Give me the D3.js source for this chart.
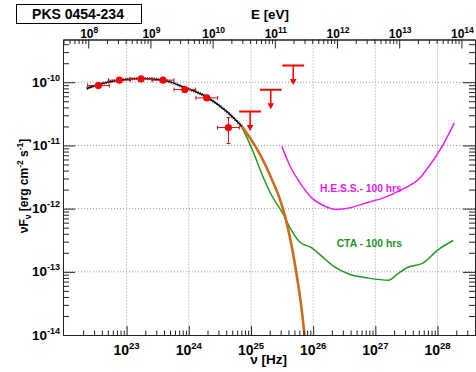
<!DOCTYPE html>
<html>
<head>
<meta charset="utf-8">
<script src="https://cdn.jsdelivr.net/npm/d3@7"></script>
<style>
body { margin: 0; background: #fff; }
text { font-family: "Liberation Sans", Arial, sans-serif; font-weight: bold; fill: #000; }
</style>
</head>
<body>
<div id="draw"></div>
<script>
// Fermi points (nu in Hz, nuFnu in erg cm-2 s-1)
var nuData = [3.52e22, 7.66e22, 1.71e23, 3.86e23, 8.63e23, 1.95e24, 4.34e24];
var nuLo   = [2.36e22, 5.12e22, 1.14e23, 2.58e23, 5.77e23, 1.30e24, 2.90e24];
var nuHi   = [5.27e22, 1.15e23, 2.56e23, 5.78e23, 1.29e24, 2.91e24, 6.49e24];
var fluxData = [8.87e-11, 1.08e-10, 1.13e-10, 1.08e-10, 7.66e-11, 5.66e-11, 1.92e-11];
var fluxLo   = [8.3e-11, 1.03e-10, 1.08e-10, 1.03e-10, 7.2e-11, 5.2e-11, 1.07e-11];
var fluxHi   = [9.5e-11, 1.13e-10, 1.18e-10, 1.13e-10, 8.2e-11, 6.2e-11, 2.76e-11];

// upper limits
var nuUL   = [9.68e24, 2.08e25, 4.79e25];
var nuULlo = [6.46e24, 1.39e25, 3.20e25];
var nuULhi = [1.45e25, 3.11e25, 7.16e25];
var fluxUL = [3.44e-11, 7.59e-11, 1.84e-10];

// model fit (black)
var fitNu   = [2.29e22, 3.52e22, 7.66e22, 1.71e23, 3.86e23, 8.63e23, 1.95e24, 4.08e24, 7.11e24];
var fitFlux = [7.94e-11, 9.20e-11, 1.08e-10, 1.15e-10, 1.08e-10, 8.24e-11, 5.83e-11, 3.44e-11, 2.01e-11];

// extrapolation (orange)
var extNu   = [7.11e24, 8.91e24, 1.12e25, 1.41e25, 1.78e25, 2.24e25, 2.82e25, 3.55e25, 4.47e25, 5.37e25,
               6.31e25, 7.08e25, 7.59e25];
var extFlux = [2.01e-11, 1.48e-11, 1.05e-11, 7.08e-12, 4.47e-12, 2.69e-12, 1.55e-12, 7.41e-13, 2.69e-13, 9.55e-14,
               3.31e-14, 1.26e-14, 6.31e-15];

// CTA 100 hrs (green)
var ctaNu   = [7.11e24, 9.68e24, 1.16e25, 1.40e25, 2.03e25, 3.32e25, 4.26e25, 6.10e25, 9.48e25, 1.37e26,
               2.11e26, 3.92e26, 7.28e26, 1.62e27, 2.21e27, 3.20e27, 5.92e27, 1.03e28, 1.79e28];
var ctaFlux = [1.95e-11, 1.03e-11, 6.75e-12, 4.16e-12, 1.80e-12, 8.07e-13, 4.97e-13, 2.96e-13, 2.40e-13, 1.77e-13,
               1.23e-13, 9.06e-14, 8.04e-14, 7.36e-14, 9.06e-14, 1.16e-13, 1.39e-13, 2.25e-13, 3.13e-13];

// H.E.S.S. 100 hrs (magenta)
var hessNu   = [3.13e25, 4.26e25, 6.15e25, 9.48e25, 1.46e26, 2.39e26, 3.91e26, 7.28e26, 1.35e27, 2.65e27,
                5.24e27, 6.97e27, 9.46e27, 1.55e28, 1.86e28];
var hessFlux = [9.70e-12, 4.69e-12, 2.56e-12, 1.48e-12, 1.12e-12, 9.68e-13, 1.03e-12, 1.24e-12, 1.48e-12, 2.00e-12,
                3.07e-12, 4.43e-12, 6.75e-12, 1.58e-11, 2.28e-11];

// tick labels
var xMajor = [1e23, 1e24, 1e25, 1e26, 1e27, 1e28];
var xLabels = ["23", "24", "25", "26", "27", "28"];
var eMajor = [1e8, 1e9, 1e10, 1e11, 1e12, 1e13, 1e14];
var eLabels = ["8", "9", "10", "11", "12", "13", "14"];
var yMajor = [1e-14, 1e-13, 1e-12, 1e-11, 1e-10];
var yLabels = ["-14", "-13", "-12", "-11", "-10"];

var width = 476, height = 372;
var L = 63, R = 475, T = 39.5, B = 335;
var hPlanck = 4.135667e-15; // eV s

var x = d3.scaleLog().domain([9.5e21, 4.0e28]).range([L, R]);
var xE = d3.scaleLog().domain([9.5e21 * hPlanck, 4.0e28 * hPlanck]).range([L, R]);
var y = d3.scaleLog().domain([1e-14, 4.75e-10]).range([B, T]);

function isDecade(v) {
	var l = Math.log10(v);
	return Math.abs(l - Math.round(l)) < 1e-6;
}

var svg = d3.select("#draw").append("svg")
	.attr("width", width)
	.attr("height", height);

svg.append("clipPath").attr("id", "plot")
	.append("rect").attr("x", L).attr("y", T).attr("width", R - L).attr("height", B - T);

// grid
svg.selectAll(".vgrid").data(xMajor).enter().append("line")
	.attr("x1", function(d){ return x(d); }).attr("x2", function(d){ return x(d); })
	.attr("y1", T).attr("y2", B)
	.attr("stroke", "#999").attr("stroke-dasharray", "1,2");
svg.selectAll(".hgrid").data(yMajor.slice(1)).enter().append("line")
	.attr("x1", L).attr("x2", R)
	.attr("y1", function(d){ return y(d); }).attr("y2", function(d){ return y(d); })
	.attr("stroke", "#999").attr("stroke-dasharray", "1,2");

var plot = svg.append("g").attr("clip-path", "url(#plot)");

function pairs(xs, ys) {
	return xs.map(function(v, i){ return [v, ys[i]]; });
}
var line = d3.line()
	.x(function(d){ return x(d[0]); })
	.y(function(d){ return y(d[1]); })
	.curve(d3.curveMonotoneX);

plot.append("path").attr("d", line(pairs(hessNu, hessFlux)))
	.attr("fill", "none").attr("stroke", "#ee22ee").attr("stroke-width", 1.5);
plot.append("path").attr("d", line(pairs(ctaNu, ctaFlux)))
	.attr("fill", "none").attr("stroke", "#229922").attr("stroke-width", 1.5);
plot.append("path").attr("d", line(pairs(extNu, extFlux)))
	.attr("fill", "none").attr("stroke", "#d06a1c").attr("stroke-width", 2.6);
// fit with hatched band
plot.append("path").attr("d", line(pairs(fitNu, fitFlux)))
	.attr("fill", "none").attr("stroke", "#444").attr("stroke-width", 3.2)
	.attr("stroke-dasharray", "0.8,1.4");
plot.append("path").attr("d", line(pairs(fitNu, fitFlux)))
	.attr("fill", "none").attr("stroke", "#000").attr("stroke-width", 1.4);

// error bars
var cap = 2;
nuData.forEach(function(v, i){
	var g = plot.append("g").attr("stroke", "#d01010").attr("stroke-width", 1);
	g.append("line").attr("x1", x(nuLo[i])).attr("x2", x(nuHi[i])).attr("y1", y(fluxData[i])).attr("y2", y(fluxData[i]));
	g.append("line").attr("x1", x(nuLo[i])).attr("x2", x(nuLo[i])).attr("y1", y(fluxData[i]) - cap).attr("y2", y(fluxData[i]) + cap);
	g.append("line").attr("x1", x(nuHi[i])).attr("x2", x(nuHi[i])).attr("y1", y(fluxData[i]) - cap).attr("y2", y(fluxData[i]) + cap);
	g.append("line").attr("x1", x(v)).attr("x2", x(v)).attr("y1", y(fluxLo[i])).attr("y2", y(fluxHi[i]));
	g.append("line").attr("x1", x(v) - cap).attr("x2", x(v) + cap).attr("y1", y(fluxLo[i])).attr("y2", y(fluxLo[i]));
	g.append("line").attr("x1", x(v) - cap).attr("x2", x(v) + cap).attr("y1", y(fluxHi[i])).attr("y2", y(fluxHi[i]));
});
plot.selectAll(".pt").data(nuData).enter().append("circle")
	.attr("cx", function(d){ return x(d); })
	.attr("cy", function(d, i){ return y(fluxData[i]); })
	.attr("r", 3.6)
	.attr("fill", "#ff0000");

// upper limits
var arrowLen = 19.5;
nuUL.forEach(function(v, i){
	var yy = y(fluxUL[i]);
	plot.append("line").attr("x1", x(nuULlo[i])).attr("x2", x(nuULhi[i])).attr("y1", yy).attr("y2", yy)
		.attr("stroke", "#ff0000").attr("stroke-width", 2);
	plot.append("line").attr("x1", x(v)).attr("x2", x(v)).attr("y1", yy).attr("y2", yy + arrowLen - 5)
		.attr("stroke", "#ff0000").attr("stroke-width", 1.5);
	plot.append("path")
		.attr("d", "M" + (x(v) - 3.3) + "," + (yy + arrowLen - 6) + "L" + (x(v) + 3.3) + "," + (yy + arrowLen - 6) + "L" + x(v) + "," + (yy + arrowLen) + "Z")
		.attr("fill", "#ff0000");
});

// axes: minor then major ticks, all inside the frame
var xMinor = x.ticks().filter(function(v){ return !isDecade(v); });
var eMinor = xE.ticks().filter(function(v){ return !isDecade(v); });
var yMinor = y.ticks().filter(function(v){ return !isDecade(v); });

function frameAxis(axis, tr) {
	var g = svg.append("g").attr("transform", tr).call(axis);
	g.selectAll("path, line").attr("stroke", "#222");
	g.selectAll("text").remove();
	return g;
}
frameAxis(d3.axisBottom(x).tickValues(xMinor).tickSize(-4.5).tickSizeOuter(0), "translate(0," + B + ")");
frameAxis(d3.axisBottom(x).tickValues(xMajor).tickSize(-9).tickSizeOuter(0), "translate(0," + B + ")");
frameAxis(d3.axisTop(xE).tickValues(eMinor).tickSize(-4.5).tickSizeOuter(0), "translate(0," + T + ")");
frameAxis(d3.axisTop(xE).tickValues(eMajor).tickSize(-9).tickSizeOuter(0), "translate(0," + T + ")");
frameAxis(d3.axisLeft(y).tickValues(yMinor).tickSize(-6).tickSizeOuter(0), "translate(" + L + ",0)");
frameAxis(d3.axisLeft(y).tickValues(yMajor).tickSize(-12).tickSizeOuter(0), "translate(" + L + ",0)");
frameAxis(d3.axisRight(y).tickValues(yMinor).tickSize(-6).tickSizeOuter(0), "translate(" + R + ",0)");
frameAxis(d3.axisRight(y).tickValues(yMajor).tickSize(-12).tickSizeOuter(0), "translate(" + R + ",0)");

// tick labels
function power(t, base, exp, size, supSize, shift) {
	t.append("tspan").style("font-size", size + "px").text(base);
	t.append("tspan").attr("dy", -shift).style("font-size", supSize + "px").text(exp);
}
xMajor.forEach(function(v, i){
	var t = svg.append("text").attr("x", x(v)).attr("y", 355).attr("text-anchor", "middle");
	power(t, "10", xLabels[i], 14, 9.5, 6);
});
eMajor.forEach(function(v, i){
	var t = svg.append("text").attr("x", xE(v) + 1).attr("y", 37.5).attr("text-anchor", "middle");
	power(t, "10", eLabels[i], 12, 8.5, 5);
});
yMajor.forEach(function(v, i){
	var t = svg.append("text").attr("x", 60).attr("y", y(v) + 4.5).attr("text-anchor", "end");
	power(t, "10", yLabels[i], 13.5, 9, 6);
});

// titles
svg.append("text").attr("x", 287).attr("y", 364).attr("text-anchor", "end")
	.style("font-size", "13.5px").text("ν [Hz]");
svg.append("text").attr("x", 251).attr("y", 18.5)
	.style("font-size", "13.4px").text("E [eV]");

var yt = svg.append("text").attr("transform", "translate(28,186) rotate(-90)")
	.attr("text-anchor", "middle").style("font-size", "12px");
yt.append("tspan").text("νF");
yt.append("tspan").attr("dy", 3).style("font-size", "8.5px").text("ν");
yt.append("tspan").attr("dy", -3).text(" [erg cm");
yt.append("tspan").attr("dy", -5).style("font-size", "8.5px").text("-2");
yt.append("tspan").attr("dy", 5).text(" s");
yt.append("tspan").attr("dy", -5).style("font-size", "8.5px").text("-1");
yt.append("tspan").attr("dy", 5).text("]");

svg.append("rect").attr("x", 16.5).attr("y", 4.5).attr("width", 125).attr("height", 19)
	.attr("fill", "#fff").attr("stroke", "#000").attr("stroke-width", 1);
svg.append("text").attr("x", 78).attr("y", 19.3).attr("text-anchor", "middle")
	.style("font-size", "14px").text("PKS 0454-234");

svg.append("text").attr("x", 320).attr("y", 191.5)
	.style("font-size", "10.3px").style("fill", "#e01ee0").text("H.E.S.S.- 100 hrs");
svg.append("text").attr("x", 336.7).attr("y", 247.3)
	.style("font-size", "10.3px").style("fill", "#1f8f1f").text("CTA - 100 hrs");
</script>
</body>
</html>
